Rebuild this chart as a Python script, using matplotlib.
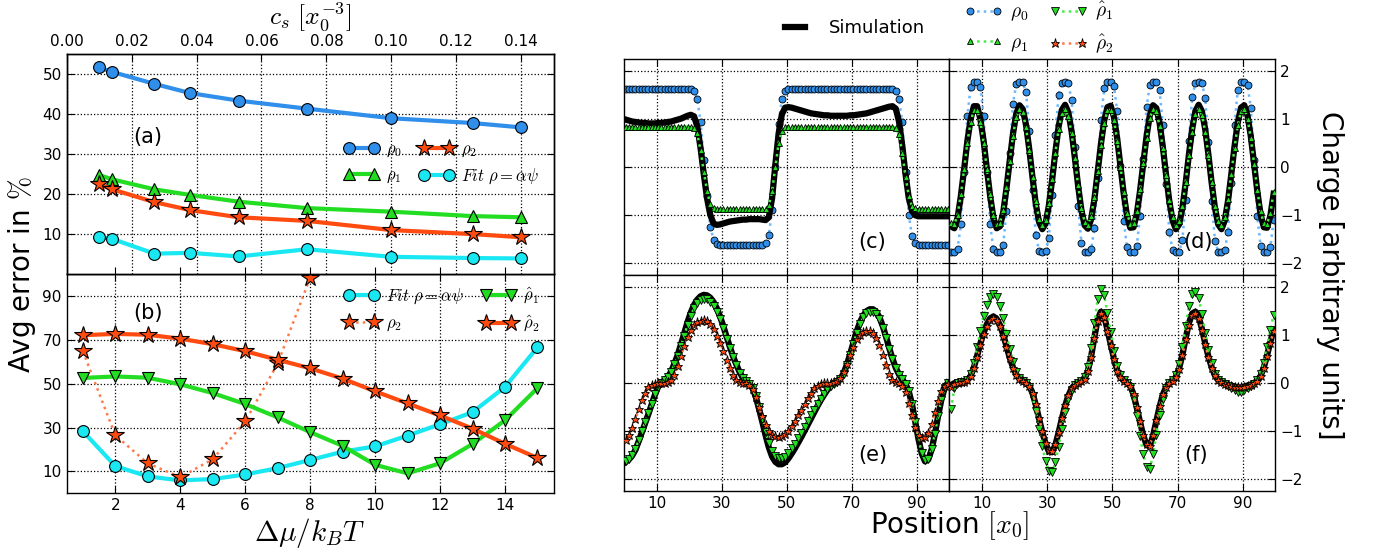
import numpy as np
import matplotlib
matplotlib.use('Agg')
import matplotlib.pyplot as plt
from matplotlib.lines import Line2D

plt.rcParams.update({
    'font.family': ['DejaVu Sans'],
    'mathtext.fontset': 'cm',
    'xtick.direction': 'in', 'ytick.direction': 'in',
    'xtick.major.size': 5, 'ytick.major.size': 5,
    'xtick.labelsize': 11, 'ytick.labelsize': 11,
    'axes.linewidth': 1.0,
    'grid.linestyle': ':', 'grid.color': 'black', 'grid.linewidth': 0.9,
    'legend.numpoints': 2,
})

# ---------------- left panels data ----------------
cs = [0.010, 0.014, 0.027, 0.038, 0.053, 0.074, 0.100, 0.125, 0.140]
err_rho0_a = [51.7, 50.6, 47.6, 45.3, 43.4, 41.4, 39.0, 37.8, 36.7]
err_rho1_a = [24.8, 23.7, 21.2, 19.8, 18.1, 16.5, 15.6, 14.5, 14.2]
err_rho2_a = [22.5, 21.2, 18.0, 16.0, 14.2, 13.3, 11.0, 10.0, 9.2]
err_fit_a = [9.3, 8.8, 5.1, 5.3, 4.4, 6.2, 4.3, 4.0, 3.9]

dmu = [1, 2, 3, 4, 5, 6, 7, 8, 9, 10, 11, 12, 13, 14, 15]
err_fit_b = [28.3, 12.4, 7.7, 5.9, 6.5, 8.6, 11.5, 15.2, 19.0, 21.4, 26.3, 31.5, 37.0, 48.5, 66.6]
err_rho1hat_b = [52.6, 53.3, 52.7, 49.7, 45.7, 40.7, 34.6, 27.9, 21.6, 13.0, 9.1, 13.7, 22.5, 33.3, 48.0]
err_rho2hat_b = [72.1, 72.7, 72.3, 70.5, 68.0, 64.8, 60.9, 57.0, 52.3, 46.5, 41.0, 35.5, 29.5, 22.6, 16.1]
dmu_rho2 = [1, 2, 3, 4, 5, 6, 7, 8]
err_rho2_b = [64.8, 26.4, 13.7, 7.3, 15.6, 32.8, 59.2, 98.4]

# ---------------- right panels data ----------------
position = np.arange(0.5, 100.0, 1.0)

sim_c = ([0.99, 0.97, 0.95, 0.94, 0.93, 0.92, 0.92, 0.91, 0.91, 0.91,
          0.92, 0.92, 0.93, 0.94, 0.95, 0.97, 0.99, 1.01, 1.04, 1.07,
          1.09, 1.06, 0.85, 0.40, -0.15, -0.65, -1.00, -1.18, -1.21, -1.20,
          -1.18, -1.16, -1.14, -1.13, -1.12, -1.11, -1.10, -1.10, -1.09, -1.09,
          -1.09, -1.09, -1.10, -1.11, -1.05, -0.65, 0.05, 0.70, 1.10, 1.24,
          1.25, 1.24, 1.22, 1.20, 1.18, 1.16, 1.14, 1.12, 1.11, 1.10,
          1.09, 1.08, 1.08, 1.07, 1.07, 1.07, 1.07, 1.07, 1.07, 1.08,
          1.08, 1.09, 1.10, 1.11, 1.12, 1.14, 1.16, 1.18, 1.20, 1.22,
          1.24, 1.26, 1.27, 1.22, 0.95, 0.45, -0.15, -0.65, -0.92, -1.01]
         + [-1.03] * 10)
rho0_c = ([1.62] * 20
          + [1.62, 1.58, 1.42, 0.95, 0.15, -0.60, -1.25, -1.52, -1.60, -1.63]
          + [-1.63] * 10
          + [-1.63, -1.63, -1.63, -1.58, -1.42, -0.90, 0.00, 0.90, 1.42, 1.58]
          + [1.62] * 30
          + [1.62, 1.62, 1.62, 1.58, 1.42, 0.95, -0.10, -1.00, -1.45, -1.58]
          + [-1.63] * 10)
rho1_c = ([0.84] * 20
          + [0.84, 0.82, 0.70, 0.35, -0.10, -0.50, -0.78, -0.86, -0.87, -0.87]
          + [-0.87] * 10
          + [-0.87, -0.87, -0.87, -0.87, -0.80, -0.50, 0.00, 0.50, 0.76, 0.83]
          + [0.84] * 30
          + [0.84, 0.84, 0.84, 0.82, 0.68, 0.30, -0.20, -0.60, -0.82, -0.86]
          + [-0.87] * 10)

sim_d = [-1.24, -1.28, -1.06, -0.61, -0.05, 0.54, 1.00, 1.27, 1.27, 1.00,
         0.54, -0.05, -0.61, -1.06, -1.28, -1.24, -0.95, -0.45, 0.13, 0.69,
         1.11, 1.29, 1.21, 0.88, 0.37, -0.22, -0.77, -1.15, -1.30, -1.18,
         -0.81, -0.28, 0.31, 0.84, 1.19, 1.30, 1.14, 0.74, 0.19, -0.40,
         -0.90, -1.22, -1.29, -1.09, -0.67, -0.10, 0.48, 0.97, 1.25, 1.28,
         1.04, 0.59, 0.01, -0.56, -1.02, -1.27, -1.26, -0.98, -0.50, 0.08,
         0.64, 1.08, 1.29, 1.23, 0.92, 0.42, -0.17, -0.72, -1.12, -1.30,
         -1.20, -0.86, -0.34, 0.26, 0.79, 1.17, 1.30, 1.16, 0.79, 0.25,
         -0.34, -0.86, -1.20, -1.30, -1.12, -0.71, -0.16, 0.43, 0.93, 1.24,
         1.29, 1.07, 0.64, 0.07, -0.51, -0.99, -1.26, -1.27, -1.02, -0.56]
rho0_d = [-1.78, -1.78, -1.71, -1.20, -0.10, 1.07, 1.67, 1.78, 1.78, 1.67,
          1.07, -0.10, -1.20, -1.71, -1.78, -1.78, -1.62, -0.93, 0.29, 1.32,
          1.73, 1.78, 1.77, 1.56, 0.76, -0.48, -1.42, -1.75, -1.78, -1.76,
          -1.48, -0.59, 0.66, 1.51, 1.76, 1.78, 1.75, 1.39, 0.41, -0.82,
          -1.58, -1.77, -1.78, -1.72, -1.28, -0.22, 0.98, 1.64, 1.78, 1.78,
          1.69, 1.16, 0.03, -1.12, -1.68, -1.78, -1.78, -1.65, -1.02, 0.17,
          1.25, 1.72, 1.78, 1.77, 1.60, 0.87, -0.35, -1.36, -1.74, -1.78,
          -1.77, -1.53, -0.70, 0.54, 1.46, 1.76, 1.78, 1.76, 1.45, 0.52,
          -0.72, -1.54, -1.77, -1.78, -1.74, -1.35, -0.34, 0.88, 1.60, 1.77,
          1.78, 1.71, 1.24, 0.15, -1.03, -1.65, -1.78, -1.78, -1.68, -1.11]
rho1_d = [-1.17, -1.20, -1.00, -0.57, -0.05, 0.51, 0.94, 1.19, 1.19, 0.94,
          0.51, -0.05, -0.57, -1.00, -1.20, -1.17, -0.89, -0.42, 0.12, 0.65,
          1.04, 1.21, 1.14, 0.83, 0.35, -0.21, -0.72, -1.08, -1.22, -1.11,
          -0.76, -0.26, 0.29, 0.79, 1.12, 1.22, 1.07, 0.70, 0.18, -0.38,
          -0.85, -1.15, -1.21, -1.02, -0.63, -0.09, 0.45, 0.91, 1.18, 1.20,
          0.98, 0.55, 0.01, -0.53, -0.96, -1.19, -1.18, -0.92, -0.47, 0.08,
          0.60, 1.02, 1.21, 1.16, 0.86, 0.39, -0.16, -0.68, -1.05, -1.22,
          -1.13, -0.81, -0.32, 0.24, 0.74, 1.10, 1.22, 1.09, 0.74, 0.24,
          -0.32, -0.81, -1.13, -1.22, -1.05, -0.67, -0.15, 0.40, 0.87, 1.17,
          1.21, 1.01, 0.60, 0.07, -0.48, -0.93, -1.18, -1.19, -0.96, -0.53]

sim_e = [-1.65, -1.60, -1.52, -1.40, -1.22, -1.03, -0.84, -0.65, -0.45, -0.25,
         -0.08, 0.00, 0.05, 0.12, 0.24, 0.40, 0.58, 0.80, 1.03, 1.26,
         1.46, 1.62, 1.73, 1.80, 1.83, 1.82, 1.77, 1.68, 1.55, 1.38,
         1.18, 0.96, 0.75, 0.55, 0.38, 0.22, 0.10, 0.03, -0.03, -0.12,
         -0.30, -0.55, -0.82, -1.10, -1.35, -1.54, -1.65, -1.70, -1.70, -1.66,
         -1.58, -1.48, -1.37, -1.25, -1.13, -1.00, -0.87, -0.74, -0.61, -0.48,
         -0.36, -0.25, -0.15, -0.07, -0.02, 0.02, 0.08, 0.20, 0.38, 0.60,
         0.84, 1.07, 1.26, 1.40, 1.49, 1.53, 1.53, 1.48, 1.36, 1.18,
         0.96, 0.72, 0.50, 0.31, 0.17, 0.07, -0.03, -0.18, -0.45, -0.82,
         -1.18, -1.48, -1.64, -1.60, -1.40, -1.08, -0.70, -0.36, -0.12, 0.00]
rho1hat_e = [-1.63, -1.58, -1.50, -1.38, -1.20, -1.01, -0.82, -0.63, -0.44, -0.24,
             -0.08, 0.00, 0.05, 0.11, 0.23, 0.38, 0.55, 0.76, 0.98, 1.20,
             1.39, 1.55, 1.65, 1.72, 1.75, 1.74, 1.69, 1.60, 1.48, 1.32,
             1.13, 0.92, 0.72, 0.53, 0.36, 0.21, 0.10, 0.03, -0.03, -0.11,
             -0.28, -0.51, -0.76, -1.02, -1.25, -1.42, -1.53, -1.57, -1.57, -1.54,
             -1.46, -1.37, -1.27, -1.16, -1.05, -0.93, -0.80, -0.68, -0.56, -0.44,
             -0.33, -0.23, -0.14, -0.07, -0.02, 0.02, 0.08, 0.19, 0.37, 0.58,
             0.81, 1.04, 1.22, 1.36, 1.45, 1.48, 1.48, 1.44, 1.32, 1.14,
             0.93, 0.70, 0.49, 0.30, 0.17, 0.07, -0.03, -0.18, -0.45, -0.81,
             -1.17, -1.47, -1.62, -1.58, -1.39, -1.07, -0.69, -0.36, -0.12, 0.00]
rho2hat_e = [-1.20, -1.10, -0.95, -0.76, -0.55, -0.37, -0.22, -0.10, -0.04, -0.02,
             -0.01, 0.00, 0.00, 0.01, 0.06, 0.17, 0.34, 0.55, 0.76, 0.95,
             1.10, 1.20, 1.26, 1.29, 1.30, 1.28, 1.22, 1.12, 0.98, 0.83,
             0.66, 0.48, 0.31, 0.15, 0.05, 0.01, 0.00, -0.01, -0.04, -0.14,
             -0.30, -0.50, -0.70, -0.88, -1.00, -1.08, -1.12, -1.13, -1.12, -1.07,
             -1.00, -0.91, -0.80, -0.68, -0.56, -0.44, -0.32, -0.21, -0.12, -0.06,
             -0.03, -0.01, 0.00, 0.00, 0.01, 0.03, 0.10, 0.22, 0.38, 0.57,
             0.75, 0.90, 1.00, 1.06, 1.08, 1.07, 1.03, 0.94, 0.78, 0.58,
             0.37, 0.18, 0.06, 0.01, -0.01, -0.06, -0.20, -0.42, -0.68, -0.92,
             -1.08, -1.16, -1.14, -1.04, -0.86, -0.62, -0.38, -0.18, -0.07, -0.02]

sim_f = [-0.05, -0.01, 0.00, 0.01, 0.02, 0.05, 0.14, 0.32, 0.56, 0.82,
         1.04, 1.22, 1.34, 1.38, 1.33, 1.20, 1.00, 0.76, 0.52, 0.32,
         0.17, 0.08, 0.03, 0.00, -0.06, -0.22, -0.46, -0.75, -1.03, -1.27,
         -1.43, -1.45, -1.30, -1.04, -0.75, -0.48, -0.27, -0.12, -0.04, 0.00,
         0.03, 0.08, 0.25, 0.55, 0.95, 1.32, 1.48, 1.38, 1.10, 0.80,
         0.50, 0.26, 0.11, 0.04, 0.00, -0.06, -0.25, -0.52, -0.82, -1.10,
         -1.30, -1.33, -1.10, -0.80, -0.50, -0.25, -0.09, -0.01, 0.04, 0.12,
         0.30, 0.58, 0.92, 1.24, 1.44, 1.48, 1.38, 1.12, 0.82, 0.54,
         0.32, 0.15, 0.05, 0.01, -0.02, -0.04, -0.06, -0.08, -0.10, -0.10,
         -0.08, -0.06, -0.04, -0.01, 0.04, 0.14, 0.32, 0.57, 0.85, 1.10]
rho1hat_f = [-0.55, -0.12, -0.01, 0.01, 0.02, 0.06, 0.18, 0.42, 0.74, 1.08,
             1.38, 1.62, 1.79, 1.85, 1.78, 1.60, 1.34, 1.02, 0.70, 0.43,
             0.23, 0.10, 0.04, 0.00, -0.08, -0.28, -0.59, -0.96, -1.32, -1.63,
             -1.83, -1.86, -1.66, -1.33, -0.96, -0.61, -0.35, -0.15, -0.05, 0.00,
             0.04, 0.11, 0.33, 0.73, 1.25, 1.74, 1.95, 1.82, 1.45, 1.06,
             0.66, 0.34, 0.15, 0.05, 0.00, -0.08, -0.34, -0.70, -1.11, -1.49,
             -1.76, -1.80, -1.49, -1.08, -0.68, -0.34, -0.12, -0.01, 0.05, 0.16,
             0.39, 0.75, 1.19, 1.59, 1.84, 1.88, 1.76, 1.43, 1.04, 0.69,
             0.41, 0.19, 0.06, 0.01, -0.03, -0.07, -0.11, -0.15, -0.19, -0.20,
             -0.16, -0.11, -0.07, -0.02, 0.05, 0.18, 0.42, 0.74, 1.10, 1.42]
rho2hat_f = [-0.08, -0.03, 0.00, 0.01, 0.02, 0.05, 0.13, 0.30, 0.54, 0.79,
             1.01, 1.19, 1.31, 1.35, 1.31, 1.18, 0.98, 0.75, 0.51, 0.31,
             0.17, 0.08, 0.03, 0.00, -0.06, -0.21, -0.45, -0.73, -1.01, -1.25,
             -1.41, -1.43, -1.28, -1.02, -0.74, -0.47, -0.26, -0.12, -0.04, 0.00,
             0.03, 0.08, 0.24, 0.53, 0.93, 1.29, 1.46, 1.36, 1.08, 0.78,
             0.49, 0.25, 0.11, 0.04, 0.00, -0.06, -0.24, -0.51, -0.80, -1.08,
             -1.28, -1.31, -1.08, -0.78, -0.49, -0.24, -0.09, -0.01, 0.04, 0.12,
             0.29, 0.57, 0.90, 1.21, 1.41, 1.45, 1.35, 1.10, 0.80, 0.53,
             0.31, 0.15, 0.05, 0.01, -0.02, -0.04, -0.06, -0.08, -0.09, -0.09,
             -0.08, -0.06, -0.04, -0.01, 0.04, 0.13, 0.31, 0.55, 0.83, 1.07]

# ---------------- styles ----------------
C_BLUE = '#2f8fea'
C_GREEN = '#22dd22'
C_RED = '#ff4a10'
C_CYAN = '#19e8f2'
L_BLUE = '#6ab8ff'
L_GREEN = '#44ee44'
L_RED = '#ff7a4a'
DOT_LW = 1.8

fig = plt.figure(figsize=(13.77, 5.52), dpi=100)

leg_kw = dict(ncol=2, frameon=False, fontsize=12, loc='center left', borderpad=0,
              borderaxespad=0, handlelength=2.1, handletextpad=0.45,
              columnspacing=1.0, labelspacing=0.45)

# ---------------- panel (b) ----------------
axb = fig.add_axes([0.0484, 0.1063, 0.3537, 0.3973])
axa = fig.add_axes([0.0484, 0.5036, 0.3537, 0.3980], sharex=axb)

lw = 3.0
hb_fit, = axb.plot(dmu, err_fit_b, '-o', color=C_CYAN, lw=lw, ms=8.5, mec='black', mew=0.8,
                   label=r'$Fit\ \rho=\alpha\psi$')
hb_r2, = axb.plot(dmu_rho2, err_rho2_b, ':*', color=L_RED, lw=1.8, ms=13, mfc=C_RED,
                  mec='black', mew=0.8, label=r'$\rho_2$', clip_on=False)
hb_r1h, = axb.plot(dmu, err_rho1hat_b, '-v', color=C_GREEN, lw=lw, ms=8.5, mec='black', mew=0.8,
                   label=r'$\hat{\rho}_1$')
hb_r2h, = axb.plot(dmu, err_rho2hat_b, '-*', color=C_RED, lw=lw, ms=13, mec='black', mew=0.8,
                   label=r'$\hat{\rho}_2$')
axb.set_xlim(0.5, 15.5)
axb.set_ylim(0, 100)
axb.set_xticks([2, 4, 6, 8, 10, 12, 14])
axb.set_yticks([10, 30, 50, 70, 90])
axb.tick_params(top=True, right=True)
axb.grid(True)
axb.set_xlabel(r'$\Delta\mu/k_BT$', fontsize=21, labelpad=2)
axb.legend(handles=[hb_fit, hb_r2, hb_r1h, hb_r2h], bbox_to_anchor=(0.569, 0.836), **leg_kw)
axb.text(0.167, 0.82, '(b)', transform=axb.transAxes, fontsize=15, ha='center', va='center')

# ---------------- panel (a) ----------------
axa.tick_params(labelbottom=False, top=False, right=True)
axa.set_ylim(0, 55)
axa.set_yticks([10, 20, 30, 40, 50])
axa.grid(True, axis='y')
axt = axa.twiny()
axt.set_xlim(0, 0.15)
axt.set_xticks([0.00, 0.02, 0.04, 0.06, 0.08, 0.10, 0.12, 0.14])
axt.set_xticklabels(['0.00', '0.02', '0.04', '0.06', '0.08', '0.10', '0.12', '0.14'])
axt.tick_params(direction='in', labelsize=11)
axt.grid(True, axis='x')
ha0, = axt.plot(cs, err_rho0_a, '-o', color=C_BLUE, lw=lw, ms=8.5, mec='black', mew=0.8, label=r'$\rho_0$')
ha1, = axt.plot(cs, err_rho1_a, '-^', color=C_GREEN, lw=lw, ms=8.5, mec='black', mew=0.8, label=r'$\rho_1$')
ha2, = axt.plot(cs, err_rho2_a, '-*', color=C_RED, lw=lw, ms=13, mec='black', mew=0.8, label=r'$\rho_2$')
haf, = axt.plot(cs, err_fit_a, '-o', color=C_CYAN, lw=lw, ms=8.5, mec='black', mew=0.8,
                label=r'$Fit\ \rho=\alpha\psi$')
axt.legend(handles=[ha0, ha1, ha2, haf], bbox_to_anchor=(0.569, 0.5075), **leg_kw)
axa.text(0.167, 0.624, '(a)', transform=axa.transAxes, fontsize=15, ha='center', va='center')

fig.text(310 / 1377, 1 - 17 / 552, r'$c_s\ [x_0^{-3}]$', fontsize=18.5, ha='center', va='center')
fig.text(0.016, 0.502, r'Avg error in $\%$', rotation=90, fontsize=20, ha='center', va='center')

# ---------------- right panels ----------------
xl, xm, xr = 0.4532, 0.6895, 0.9261
yb, ym, yt = 0.1111, 0.5024, 0.8926
axc = fig.add_axes([xl, ym, xm - xl, yt - ym])
axd = fig.add_axes([xm, ym, xr - xm, yt - ym])
axe = fig.add_axes([xl, yb, xm - xl, ym - yb])
axf = fig.add_axes([xm, yb, xr - xm, ym - yb])

def marker_series(ax, y, marker, fc, lc, ms, z):
    ax.plot(position, y, linestyle=':', color=lc, lw=DOT_LW, marker=marker, ms=ms,
            mfc=fc, mec='black', mew=0.6, zorder=z)

for ax, sim, s0, s1 in [(axc, sim_c, rho0_c, rho1_c), (axd, sim_d, rho0_d, rho1_d)]:
    marker_series(ax, s0, 'o', C_BLUE, L_BLUE, 5.0, 2)
    ax.plot(position, sim, '-', color='black', lw=4.5, zorder=3)
    marker_series(ax, s1, '^', C_GREEN, L_GREEN, 5.0, 4)

for ax, sim, s1, s2 in [(axe, sim_e, rho1hat_e, rho2hat_e), (axf, sim_f, rho1hat_f, rho2hat_f)]:
    ax.plot(position, sim, '-', color='black', lw=4.5, zorder=2)
    marker_series(ax, s1, 'v', C_GREEN, L_GREEN, 5.5, 3)
    marker_series(ax, s2, '*', C_RED, L_RED, 6.5, 4)

for ax in (axc, axd, axe, axf):
    ax.set_xlim(0, 100)
    ax.set_ylim(-2.25, 2.25)
    ax.set_xticks([10, 30, 50, 70, 90])
    ax.set_yticks([-2, -1, 0, 1, 2])
    ax.grid(True)
    ax.tick_params(top=True, right=True, left=True, bottom=True,
                   labelleft=False, labelbottom=False)
axd.tick_params(labelright=True)
axf.tick_params(labelright=True)
axe.tick_params(labelbottom=True)
axf.tick_params(labelbottom=True)
for ax in (axd, axf):
    ax.set_yticklabels(['\u22122', '\u22121', '0', '1', '2'])

for ax, lab, xf, yf in [(axc, '(c)', 0.762, 0.152), (axd, '(d)', 0.763, 0.152),
                        (axe, '(e)', 0.765, 0.165), (axf, '(f)', 0.757, 0.165)]:
    ax.text(xf, yf, lab, transform=ax.transAxes, fontsize=15, ha='center', va='center', zorder=10)

fig.text(0.690, 0.048, r'Position $[x_0]$', fontsize=20, ha='center', va='center')
fig.text(0.966, 0.502, 'Charge [arbitrary units]', rotation=-90, fontsize=20, ha='center', va='center')

# legends at top
h_sim = Line2D([], [], color='black', lw=4.5)
fig.legend(handles=[h_sim], labels=['Simulation'], loc='center left',
           bbox_to_anchor=(780 / 1377, 1 - 28 / 552), frameon=False, fontsize=13,
           borderpad=0, borderaxespad=0, handlelength=1.7, handletextpad=1.0)
h_r0 = Line2D([], [], ls=':', color=L_BLUE, lw=DOT_LW, marker='o', ms=5, mfc=C_BLUE, mec='black', mew=0.6)
h_r1 = Line2D([], [], ls=':', color=L_GREEN, lw=DOT_LW, marker='^', ms=5, mfc=C_GREEN, mec='black', mew=0.6)
h_r1h = Line2D([], [], ls=':', color=L_GREEN, lw=DOT_LW, marker='v', ms=5.5, mfc=C_GREEN, mec='black', mew=0.6)
h_r2h = Line2D([], [], ls=':', color=L_RED, lw=DOT_LW, marker='*', ms=6.5, mfc=C_RED, mec='black', mew=0.6)
fig.legend(handles=[h_r0, h_r1, h_r1h, h_r2h],
           labels=[r'$\rho_0$', r'$\rho_1$', r'$\hat{\rho}_1$', r'$\hat{\rho}_2$'],
           ncol=2, loc='upper left', bbox_to_anchor=(964 / 1377, 1.0), frameon=False,
           fontsize=14, borderpad=0, borderaxespad=0, handlelength=2.0,
           handletextpad=0.35, columnspacing=1.1, labelspacing=0.5)

fig.savefig('out.png', dpi=100)
